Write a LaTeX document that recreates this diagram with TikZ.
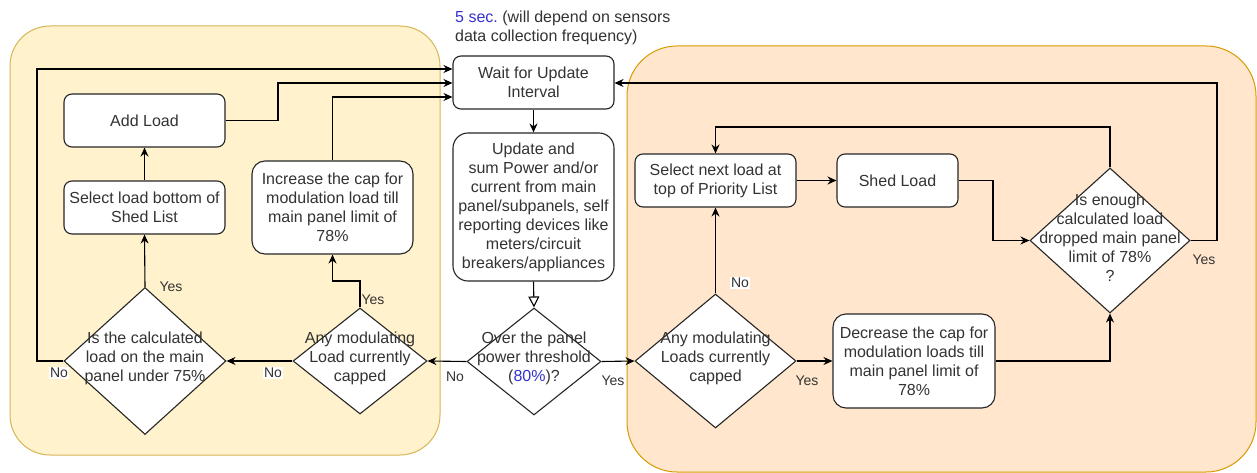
\documentclass[tikz,border=0pt]{standalone}
\usepackage{fontspec}
\setmainfont{Liberation Sans}
\usetikzlibrary{shapes.geometric,arrows.meta}
\definecolor{txt}{HTML}{333333}
\definecolor{blu}{RGB}{51,51,204}
\definecolor{ylwfill}{HTML}{FFF2CC}
\definecolor{ylwline}{HTML}{D6B656}
\definecolor{orgfill}{HTML}{FFE6CC}
\definecolor{orgline}{HTML}{D79B00}
\frenchspacing
\begin{document}
\begin{tikzpicture}[x=1pt,y=-1pt,
  every node/.style={font=\fontsize{16}{19}\selectfont, text=txt},
  box/.style={draw=black!85, fill=white, line width=1.1pt, rounded corners=8pt, align=center, inner sep=0pt},
  bigbox/.style={box, rounded corners=15pt},
  dia/.style={draw=black!85, fill=white, line width=1.1pt, diamond, inner sep=0pt},
  dtext/.style={align=center, inner sep=0pt},
  conn/.style={line width=1.1pt, draw=black, -{Stealth[length=9pt,width=8pt]}},
  openconn/.style={line width=1.1pt, draw=black, -{Triangle[open,length=11pt,width=11pt,fill=white]}},
  lbl/.style={inner sep=1pt, font=\fontsize{14}{16}\selectfont},
  lblw/.style={lbl, fill=white},
  bgyel/.style={fill=ylwfill, draw=ylwline, line width=1pt, rounded corners=40pt},
  bgorg/.style={fill=orgfill, draw=orgline, line width=1pt, rounded corners=50pt}]

\useasboundingbox (0,0) rectangle (1257,473);

% background regions
\path[bgyel] (10,26) rectangle (440,455);
\path[bgorg] (627,46) rectangle (1256,472);

% top note
\node[anchor=north west, align=left, inner sep=0pt] (note) at (455,11)
  {{\color{blu}5 sec.} (will depend on sensors\\data collection frequency)};

% boxes
\node[box, minimum width=161pt, minimum height=53pt] (wait) at (533.5,82.5) {Wait for Update\\Interval};
\node[bigbox, minimum width=161pt, minimum height=148pt] (update) at (533.5,207)
  {Update and\\sum Power and/or\\current from main\\panel/subpanels, self\\reporting devices like\\meters/circuit\\breakers/appliances};
\node[box, minimum width=161pt, minimum height=53pt] (addload) at (144.5,120.5) {Add Load};
\node[box, minimum width=161pt, minimum height=53pt] (selbot) at (144.5,207.5) {Select load bottom of\\Shed List};
\node[bigbox, rounded corners=13pt, minimum width=161pt, minimum height=93pt] (incr) at (332.5,207.5)
  {Increase the cap for\\modulation load till\\main panel limit of\\78\%};
\node[box, minimum width=161pt, minimum height=53pt] (selnext) at (715.5,180.5) {Select next load at\\top of Priority List};
\node[box, minimum width=121pt, minimum height=53pt] (shed) at (897.5,180.5) {Shed Load};
\node[bigbox, rounded corners=13pt, minimum width=162pt, minimum height=94pt] (decr) at (914,361)
  {Decrease the cap for\\modulation loads till\\main panel limit of\\78\%};

% diamonds
\node[dia, minimum width=162pt, minimum height=147pt] (dcalc) at (145,361) {};
\node[dtext] (tcalc) at (145,358) {Is the calculated\\load on the main\\panel under 75\%};
\node[dia, minimum width=134pt, minimum height=106pt] (dmodL) at (360,361) {};
\node[dtext] (tmodL) at (360,358) {Any modulating\\Load currently\\capped};
\node[dia, minimum width=134pt, minimum height=107pt] (dover) at (534,361.5) {};
\node[dtext] (tover) at (534,358) {Over the panel\\power threshold\\({\color{blu}80\%})?};
\node[dia, minimum width=161pt, minimum height=134pt] (dmodR) at (715.5,361) {};
\node[dtext] (tmodR) at (715.5,358) {Any modulating\\Loads currently\\capped};
\node[dia, minimum width=160pt, minimum height=145pt] (denough) at (1110,240.5) {};
\node[dtext] (tenough) at (1110,238) {Is enough\\calculated load\\dropped main panel\\limit of 78\%\\?};

% helper coordinates
\coordinate (c1) at (37,69);
\coordinate (c2) at (278,83);
\coordinate (c3) at (332.5,97);
\coordinate (c4) at (332.5,281);
\coordinate (c5) at (993,240.5);
\coordinate (c6) at (1110,127);
\coordinate (c7) at (715.5,127);
\coordinate (c8) at (1217,83);

% connectors left
\draw[conn] (dcalc.west) -| (c1) -- (c1 -| wait.west);
\draw[conn] (addload.east) -| (c2) -- (c2 -| wait.west);
\draw[conn] (incr.north) -- (c3) -- (c3 -| wait.west);
\draw[conn] (selbot.north) -- (addload.south);
\draw[conn] (dcalc.north) -- (selbot.south);
\draw[conn] (dmodL.west) -- (dcalc.east);
\draw[conn] (dmodL.north) |- (c4) -- (incr.south);

% centre
\draw[conn] (wait.south) -- (update.north);
\draw[openconn] (update.south) -- (dover.north);
\draw[conn] (dover.west) -- (dmodL.east);
\draw[conn] (dover.east) -- (dmodR.west);

% right
\draw[conn] (dmodR.north) -- (selnext.south);
\draw[conn] (dmodR.east) -- (decr.west);
\draw[conn] (selnext.east) -- (shed.west);
\draw[conn] (shed.east) -| (c5) -- (denough.west);
\draw[conn] (denough.north) -- (c6) -- (c7) -- (selnext.north);
\draw[conn] (denough.east) -| (c8) -- (c8 -| wait.east);
\draw[conn] (decr.east) -| (denough.south);

% labels
\node[lbl] (yes1) at (171,287) {Yes};
\node[lblw] (no1) at (59,373) {No};
\node[lblw] (no2) at (273,373) {No};
\node[lbl] (yes2) at (373,300) {Yes};
\node[lbl] (no3) at (455,377) {No};
\node[lbl] (yes3) at (613,381) {Yes};
\node[lblw] (no4) at (740,283) {No};
\node[lbl] (yes4) at (807,381) {Yes};
\node[lbl] (yes5) at (1204,260) {Yes};
\end{tikzpicture}
\end{document}
